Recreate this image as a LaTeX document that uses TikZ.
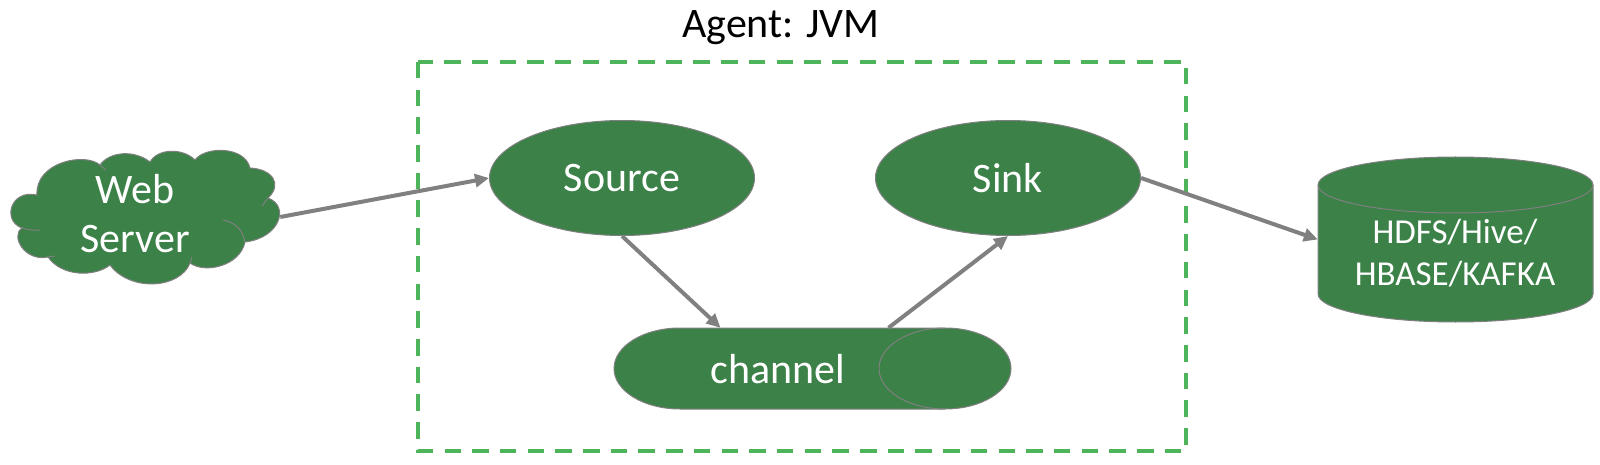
\documentclass[tikz,border=0pt]{standalone}
\usepackage{fontspec}
\setmainfont{Carlito}
\usepackage{xcolor}
\usepackage{tikz}
\usetikzlibrary{shapes.geometric,arrows.meta}
\definecolor{flumegreen}{HTML}{3B8148}
\definecolor{boxgreen}{HTML}{4DB45A}
\definecolor{linegrey}{HTML}{808080}
\tikzstyle{every node}=[text=white,font=\fontsize{42}{49}\selectfont,align=center,inner sep=0pt]
\tikzstyle{shapeline}=[draw=linegrey,line width=1pt,fill=flumegreen]
\tikzstyle{oval}=[shapeline,ellipse,minimum width=265pt,minimum height=115pt]
\tikzstyle{flow}=[draw=linegrey,line width=4pt,-{Triangle[length=14pt,width=13pt]}]

\begin{document}
\begin{tikzpicture}[x=1pt,y=1pt]
    \useasboundingbox (0,0) rectangle (1600,464);
    % agent box
    \draw[boxgreen,line width=4pt,dash pattern=on 16.5pt off 11.2pt] (418,402) rectangle (1186,13);
    \node (agent) [text=black] at (781,436) {Agent: JVM};
    % cloud
    \path[shapeline] (37,269) .. controls (35,302) and (85,312) .. (100,299)
        .. controls (110,313) and (135,314) .. (150,302)
        .. controls (158,316) and (183,316) .. (195,304)
        .. controls (205,318) and (245,318) .. (250,296)
        .. controls (272,295) and (283,280) .. (268,266)
        .. controls (290,258) and (280,226) .. (245,222)
        .. controls (240,198) and (205,190) .. (190,201)
        .. controls (180,175) and (130,172) .. (110,199)
        .. controls (95,187) and (62,187) .. (48,207)
        .. controls (25,202) and (10,228) .. (22,236)
        .. controls (2,243) and (10,275) .. (37,269) -- cycle;
    \draw[linegrey,line width=1pt] (100,299) -- (106,294);
    \draw[linegrey,line width=1pt] (268,266) -- (262,258);
    \draw[linegrey,line width=1pt] (223,244) to[bend left=35] (245,222);
    \draw[linegrey,line width=1pt] (22,236) to[bend right=10] (40,234);
    \draw[linegrey,line width=1pt] (48,207) -- (55,208);
    \draw[linegrey,line width=1pt] (190,201) -- (192,207);
    \node (web) [minimum width=270pt,minimum height=132pt] at (145,247) {};
    \node (webtext) at (135,250) {Web\\Server};
    % agent nodes
    \node (source) [oval] at (622,286) {Source};
    \node (sink) [oval] at (1008,286) {Sink};
    \path[shapeline] (680,136) arc[start angle=90,end angle=270,x radius=66,y radius=40.5]
        -- (945,55) arc[start angle=-90,end angle=90,x radius=66,y radius=40.5] -- cycle;
    \draw[linegrey,line width=1pt] (945,136) arc[start angle=90,end angle=270,x radius=66,y radius=40.5];
    \node (channel) [minimum width=397pt,minimum height=81pt] at (812.5,95.5) {};
    \node (channeltext) at (778,95) {channel};
    % store
    \path[shapeline] (1318,279) arc[start angle=180,end angle=0,x radius=137.5,y radius=28]
        -- (1593,170) arc[start angle=0,end angle=-180,x radius=137.5,y radius=28] -- cycle;
    \draw[linegrey,line width=1pt] (1318,279) arc[start angle=180,end angle=360,x radius=137.5,y radius=28];
    \node (store) [minimum width=275pt,minimum height=165pt] at (1455.5,224.5) {};
    \node (storetext) [font=\fontsize{35}{42}\selectfont] at (1455,211) {HDFS/Hive/\\HBASE/KAFKA};
    % connectors
    \draw[flow] (web.east) -- (source.west);
    \draw[flow] (source.south) -- ([xshift=-92pt]channel.north);
    \draw[flow] ([xshift=76pt]channel.north) -- (sink.south);
    \draw[flow] (sink.east) -- (store.west);
\end{tikzpicture}
\end{document}
